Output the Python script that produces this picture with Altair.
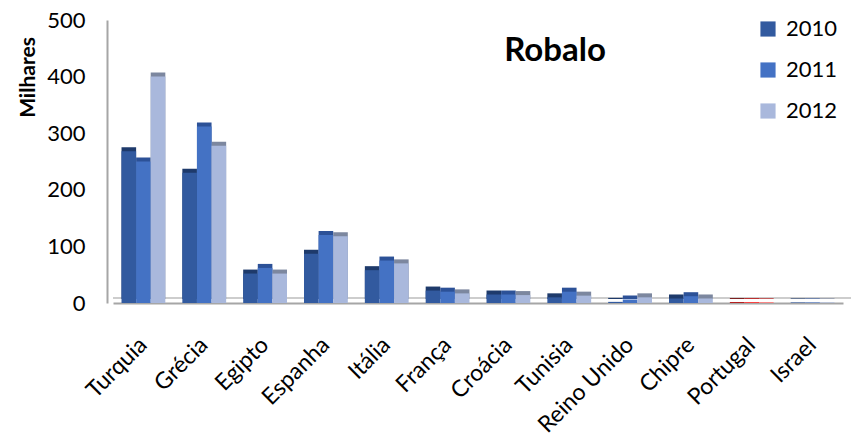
import altair as alt
import pandas as pd

# Production of sea bass (thousands of tonnes) by country
paises = ["Turquia", "Grécia", "Egipto", "Espanha", "Itália", "França",
          "Croácia", "Tunisia", "Reino Unido", "Chipre", "Portugal", "Israel"]
anos = ["2010", "2011", "2012"]
v2010 = [268, 230, 52, 87, 58, 22, 15, 10, 2, 8, 1.5, 1]
v2011 = [250, 312, 62, 120, 75, 20, 15, 20, 6, 12, 1.5, 1]
v2012 = [400, 278, 52, 118, 70, 17, 14, 13, 10, 8, 1.5, 1]

rows = []
for ano, serie in zip(anos, [v2010, v2011, v2012]):
    for pais, v in zip(paises, serie):
        grupo = ("Portugal " + ano) if pais == "Portugal" else ano
        rows.append({"pais": pais, "ano": ano, "grupo": grupo, "valor": v})
df = pd.DataFrame(rows)

FONT = "Lato"
cor_dom = ["2010", "2011", "2012", "Portugal 2010", "Portugal 2011", "Portugal 2012"]
cor_rng = ["#325A9F", "#4472C4", "#A9B8DC", "#B00000", "#FF2A2A", "#FF7A7A"]
sombra_rng = ["#1E3A6B", "#2C5197", "#7C879F", "#6E0000", "#B81414", "#C04848"]

x_enc = alt.X("pais:N", sort=paises, title=None,
              scale=alt.Scale(paddingInner=0.28, paddingOuter=0.14),
              axis=alt.Axis(labelAngle=-45, labelAlign="right", labelBaseline="middle",
                            labelFont=FONT, labelFontSize=23, labelColor="#000000",
                            ticks=False, domainColor="#A6A6A6", domainWidth=2,
                            labelPadding=38))
xoff = alt.XOffset("ano:N", sort=anos)
y_enc = alt.Y("valor:Q", title="Milhares",
              scale=alt.Scale(domain=[0, 500]),
              axis=alt.Axis(values=[0, 100, 200, 300, 400, 500], grid=False, ticks=False,
                            labelFont=FONT, labelFontSize=22, labelColor="#000000",
                            labelPadding=22, domainColor="#A6A6A6", domainWidth=2,
                            offset=6, titleFont=FONT, titleFontSize=21,
                            titleFontWeight="bold", titleColor="#000000",
                            titlePadding=8, titleY=57, titleAlign="center"))

base = alt.Chart(df)

# back edge of the chart floor
piso = alt.Chart(pd.DataFrame({"valor": [0]})).mark_rule(
    color="#BDBDBD", strokeWidth=1.5, xOffset=8, yOffset=-5
).encode(y=y_enc)

# extruded back face gives each bar its depth
profundidade = base.mark_bar(xOffset=4, yOffset=-4).encode(
    x=x_enc, xOffset=xoff, y=y_enc,
    color=alt.Color("grupo:N", scale=alt.Scale(domain=cor_dom, range=sombra_rng),
                    legend=None),
)

frente = base.mark_bar().encode(
    x=x_enc, xOffset=xoff, y=y_enc,
    color=alt.Color("grupo:N",
                    scale=alt.Scale(domain=cor_dom, range=cor_rng),
                    legend=alt.Legend(values=anos, title=None, orient="none",
                                      legendX=644, legendY=-2, symbolType="square",
                                      symbolSize=230, symbolStrokeWidth=0,
                                      labelFont=FONT, labelFontSize=22,
                                      labelColor="#000000", rowPadding=19,
                                      labelOffset=7)),
)

titulo = alt.Chart(pd.DataFrame({"t": ["Robalo"]})).mark_text(
    font=FONT, fontSize=33, fontWeight="bold", color="#000000", align="center"
).encode(text="t:N", x=alt.value(442), y=alt.value(31))

chart = alt.layer(piso, profundidade, frente, titulo).resolve_scale(color="independent").properties(
    width=730, height=283,
    autosize=alt.AutoSizeParams(type="none"),
    padding={"left": 113, "top": 20, "right": 18, "bottom": 134},
).configure_view(stroke=None)

chart.save("out.html", embed_options={"renderer": "svg", "actions": False})
